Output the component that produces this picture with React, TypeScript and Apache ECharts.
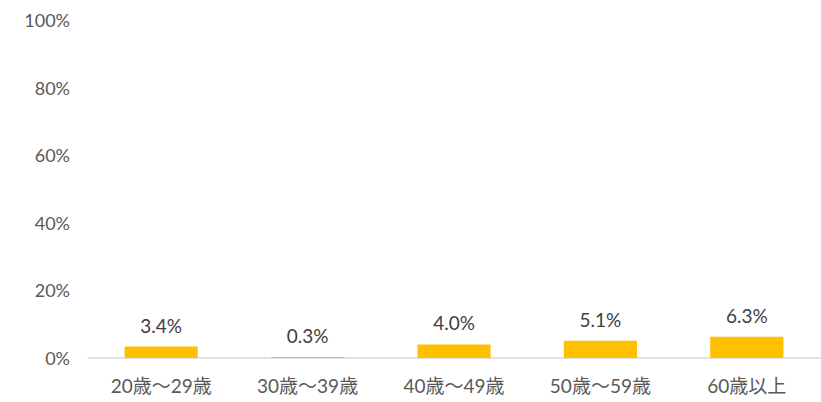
import React, { useEffect, useRef } from "react";
import * as echarts from "echarts";

const categories = ["20歳～29歳", "30歳～39歳", "40歳～49歳", "50歳～59歳", "60歳以上"];
const values = [3.4, 0.3, 4.0, 5.1, 6.3];

export default function App() {
  const ref = useRef<HTMLDivElement>(null);
  useEffect(() => {
    document.body.style.margin = "0";
    const chart = echarts.init(ref.current!, null, { renderer: "svg" });
    const font = "Lato, 'Noto Sans CJK JP', sans-serif";
    chart.setOption({
      animation: false,
      grid: { left: 88, right: 1, top: 20, bottom: 44, containLabel: false },
      xAxis: {
        type: "category",
        data: categories,
        axisLine: { lineStyle: { color: "#d9d9d9", width: 1.5 } },
        axisTick: { show: false },
        axisLabel: { color: "#595959", fontSize: 19, fontFamily: font, margin: 18 },
      },
      yAxis: {
        type: "value",
        min: 0,
        max: 100,
        interval: 20,
        splitLine: { show: false },
        axisLine: { show: false },
        axisTick: { show: false },
        axisLabel: { color: "#595959", fontSize: 18, fontFamily: font, margin: 18, formatter: "{value}%" },
      },
      series: [
        {
          type: "bar",
          data: values,
          barWidth: "50%",
          itemStyle: { color: "#FFC000" },
          label: {
            show: true,
            position: "top",
            distance: 12,
            color: "#404040",
            fontSize: 19,
            fontFamily: font,
            formatter: (p: any) => p.value.toFixed(1) + "%",
          },
        },
      ],
    });
    return () => chart.dispose();
  }, []);
  return <div ref={ref} style={{ width: 821, height: 402 }} />;
}
